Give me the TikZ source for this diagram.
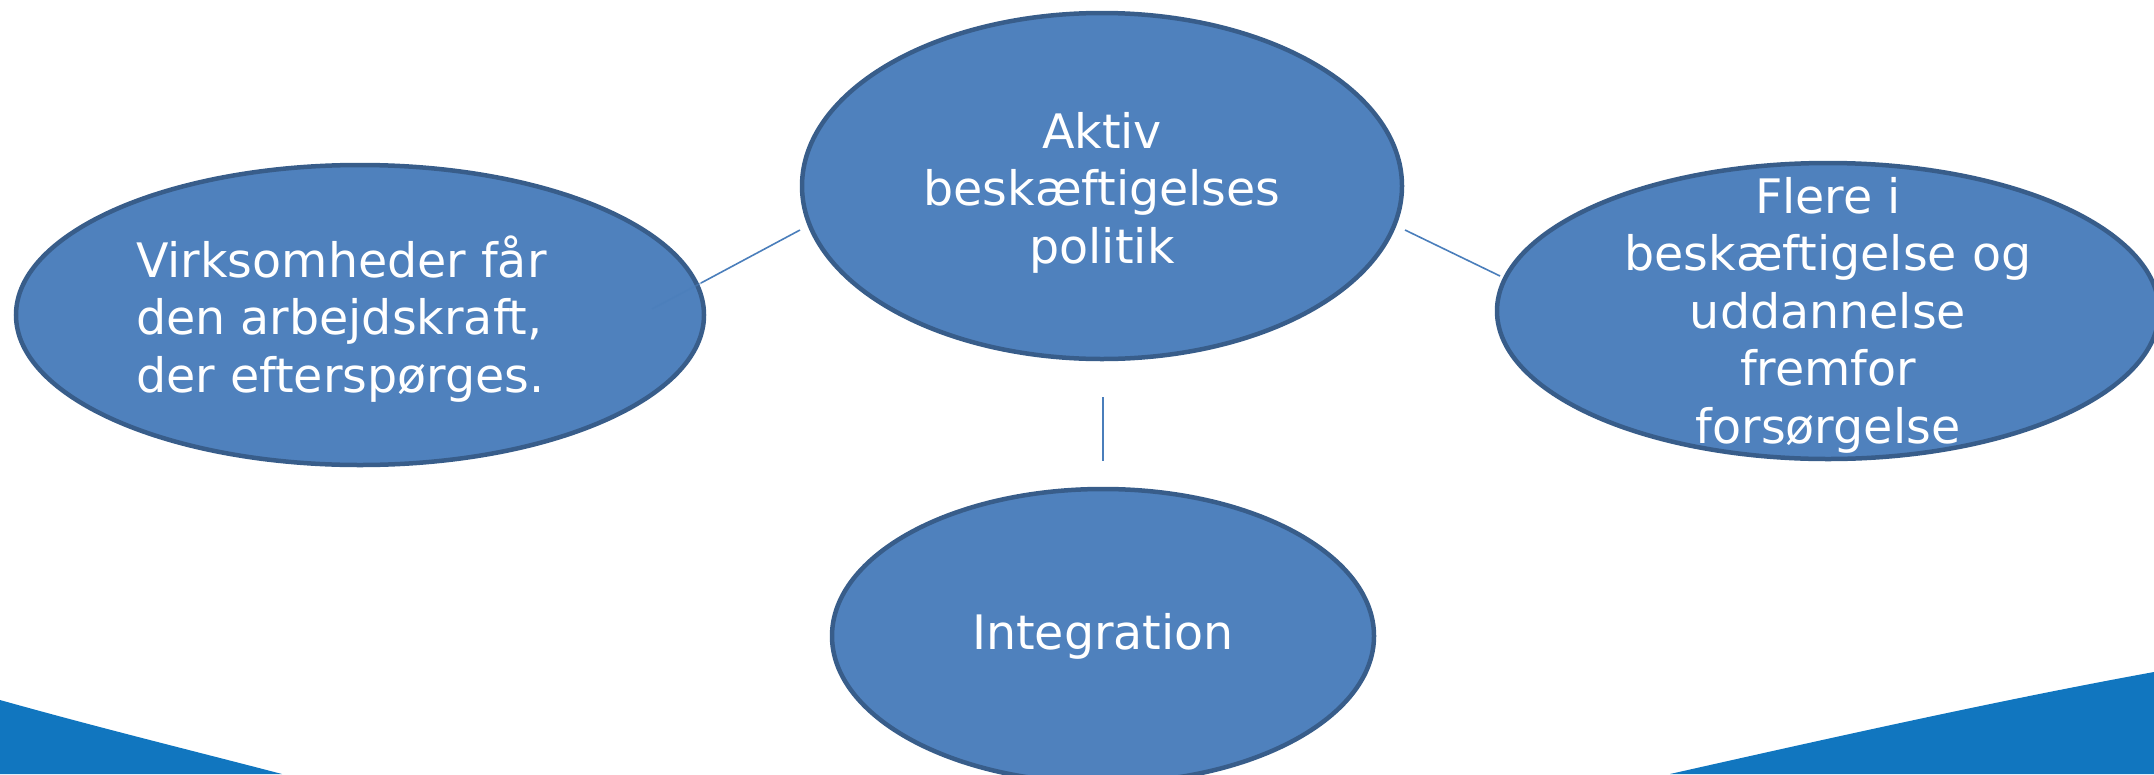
\documentclass[tikz,border=0pt]{standalone}
\usepackage{fontspec}
\newfontfamily\dejavu{DejaVu Sans}
\usetikzlibrary{shapes.geometric}
\definecolor{ellfill}{HTML}{4F81BD}
\definecolor{elldraw}{HTML}{385D8A}
\definecolor{connblue}{HTML}{4A7EBB}
\definecolor{waveblue}{RGB}{17,118,191}
\tikzset{
  ell/.style={ellipse, fill=ellfill, draw=elldraw, line width=4.5pt, inner sep=0pt},
  txt/.style={text=white, inner sep=0pt, font=\dejavu\fontsize{47.5}{57.5}\selectfont},
  conn/.style={draw=connblue, line width=1.6pt},
  wave/.style={fill=waveblue, draw=none}
}
\begin{document}
\begin{tikzpicture}[x=1pt, y=-1pt]
\useasboundingbox (0,0) rectangle (2154,774);
\clip (0,0) rectangle (2154,774);
% background waves
\fill[wave] (0,700) .. controls (100,728) and (190,750) .. (282,774) -- (0,774) -- cycle;
\fill[wave] (1670,774) .. controls (1830,738) and (2000,700) .. (2154,672) -- (2154,774) -- cycle;
% ellipses
\node[ell, minimum width=600pt, minimum height=346pt] (top) at (1102,186) {};
\node[ell, minimum width=688pt, minimum height=300pt] (left) at (360,315) {};
\node[ell, minimum width=662pt, minimum height=296pt] (right) at (1828,311) {};
\node[ell, minimum width=542pt, minimum height=294pt] (bottom) at (1103,636) {};
% connectors
\coordinate (tl) at (800,230);
\coordinate (le) at (701,283);
\coordinate (li) at (652,309);
\coordinate (tr) at (1405,230);
\coordinate (re) at (1500,276);
\coordinate (tb) at (1103,397);
\coordinate (bt) at (1103,461);
\draw[conn] (tl) -- (le);
\draw[conn, opacity=0.5] (le) -- (li);
\draw[conn] (tr) -- (re);
\draw[conn] (tb) -- (bt);
% texts
\node[txt, anchor=base] (toptext) at (1102,148)
  {\begin{tabular}[t]{@{}c@{}}Aktiv\\beskæftigelses\\politik\end{tabular}};
\node[txt, anchor=base west] (lefttext) at (136,277)
  {\begin{tabular}[t]{@{}l@{}}Virksomheder får\\den arbejdskraft,\\der efterspørges.\end{tabular}};
\node[txt, anchor=base] (righttext) at (1828,213)
  {\begin{tabular}[t]{@{}c@{}}Flere i\\beskæftigelse og\\uddannelse\\fremfor\\forsørgelse\end{tabular}};
\node[txt, anchor=base] (bottomtext) at (1103,649) {Integration};
\end{tikzpicture}
\end{document}
